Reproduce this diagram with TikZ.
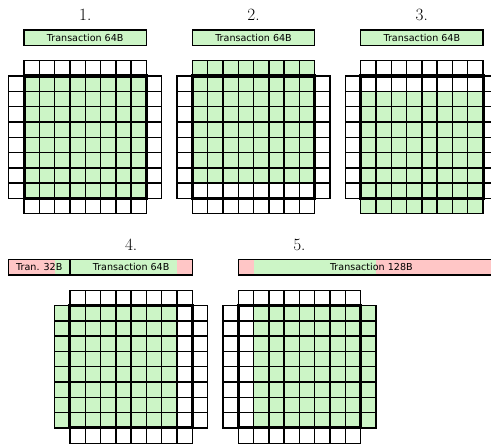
\documentclass[tikz,border=0pt]{standalone}
\usepackage{fontspec}
\newfontfamily\barfont{DejaVu Sans}
\definecolor{tgreen}{RGB}{204,245,198}
\definecolor{tred}{RGB}{255,198,198}
\tikzset{
  cellline/.style={line width=1.3pt},
  thickline/.style={line width=2.8pt},
  lab/.style={anchor=base, inner sep=0pt, font=\fontsize{16}{18}\selectfont},
  bar/.style={draw, line width=1.2pt, inner sep=0pt, outer sep=0pt, minimum height=0.5cm, font=\barfont\fontsize{8.9}{10}\selectfont},
  tile/.pic={
    \foreach \i in {0,...,7} {
      \draw[cellline] (\i,0) rectangle ++(1,1);
      \draw[cellline] (\i,-9) rectangle ++(1,1);
      \draw[cellline] (-1,-\i) rectangle ++(1,-1);
      \draw[cellline] (8,-\i) rectangle ++(1,-1);
      \foreach \j in {0,...,7} {
        \draw[cellline] (\i,-\j) rectangle ++(1,-1);
      }
    }
    \draw[thickline] (0,-8) rectangle (8,0);
  }
}
\begin{document}
\begin{tikzpicture}[x=0.5cm,y=0.5cm]
\useasboundingbox (-1.569,-24.18) rectangle (30.52,4.967);
\clip (-1.569,-24.18) rectangle (30.52,4.967);
% green regions
\fill[tgreen] (0,-8) rectangle (8,0);
\fill[tgreen] (11,-7) rectangle (19,1);
\fill[tgreen] (22,-9) rectangle (30,-1);
\fill[tgreen] (2,-23) rectangle (10,-15);
\fill[tgreen] (15,-23) rectangle (23,-15);
% tiles
\pic at (0,0) {tile};
\pic at (11,0) {tile};
\pic at (22,0) {tile};
\pic at (3,-15) {tile};
\pic at (14,-15) {tile};
% labels
\node[lab] (l1) at (4,3.61) {1.};
\node[lab] (l2) at (15,3.61) {2.};
\node[lab] (l3) at (26,3.61) {3.};
\node[lab] (l4) at (7,-11.39) {4.};
\node[lab] (l5) at (18,-11.39) {5.};
% bars
\fill[tgreen] (0,2) rectangle (8,3);
\fill[tgreen] (11,2) rectangle (19,3);
\fill[tgreen] (22,2) rectangle (30,3);
\fill[tred] (-1,-13) rectangle (2,-12);
\fill[tgreen] (2,-13) rectangle (3,-12);
\fill[tgreen] (3,-13) rectangle (10,-12);
\fill[tred] (10,-13) rectangle (11,-12);
\fill[tred] (14,-13) rectangle (15,-12);
\fill[tgreen] (15,-13) rectangle (23,-12);
\fill[tred] (23,-13) rectangle (31.4,-12);
\node[bar, minimum width=4cm] (b1) at (4,2.5) {Transaction 64B};
\node[bar, minimum width=4cm] (b2) at (15,2.5) {Transaction 64B};
\node[bar, minimum width=4cm] (b3) at (26,2.5) {Transaction 64B};
\node[bar, minimum width=2cm] (b4a) at (1,-12.5) {Tran. 32B};
\node[bar, minimum width=4cm] (b4b) at (7,-12.5) {Transaction 64B};
\node[bar, minimum width=8.7cm] (b5) at (22.7,-12.5) {Transaction 128B};
\end{tikzpicture}
\end{document}
